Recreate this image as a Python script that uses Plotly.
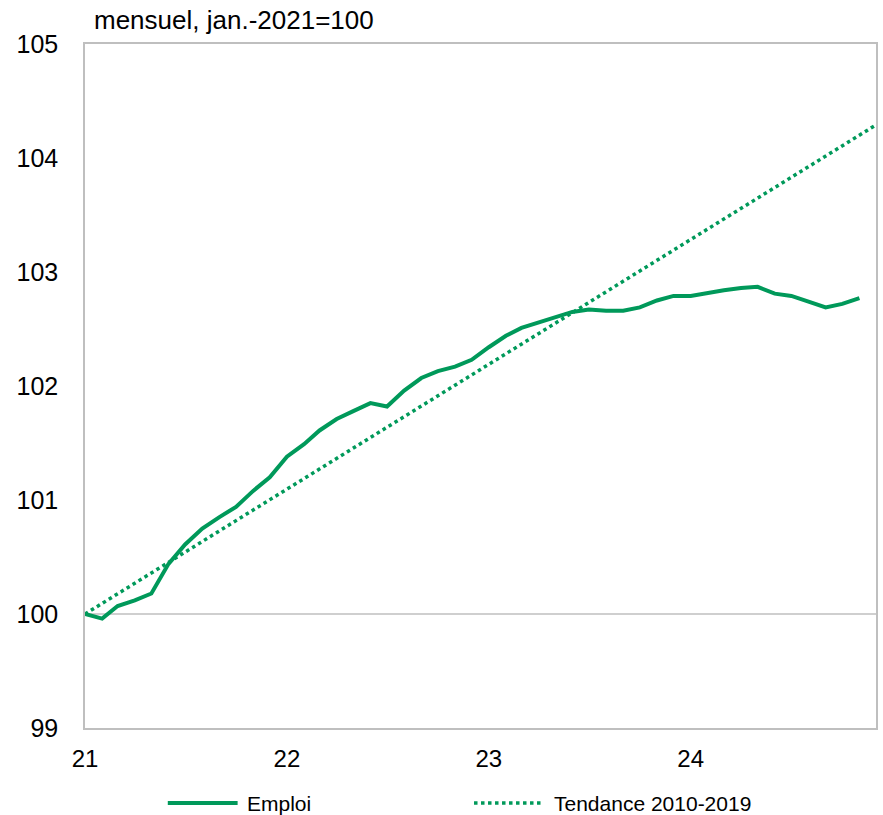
import pandas as pd
import plotly.graph_objects as go

# Monthly employment index, Jan 2021 = 100
months = pd.date_range("2021-01-01", periods=47, freq="MS")
emploi = [
    100.00, 99.96, 100.07, 100.12, 100.18, 100.44, 100.61, 100.75, 100.85, 100.94,
    101.08, 101.20, 101.38, 101.49, 101.61, 101.71, 101.78, 101.85, 101.82, 101.96,
    102.07, 102.13, 102.17, 102.23, 102.34, 102.44, 102.51, 102.56, 102.60, 102.65,
    102.67, 102.66, 102.66, 102.69, 102.75, 102.79, 102.79, 102.82, 102.84, 102.86,
    102.87, 102.81, 102.79, 102.74, 102.69, 102.72, 102.77,
]

# 2010-2019 trend, straight line between its end points
trend_dates = ["2021-01-01", "2024-12-01"]
trend_values = [100.0, 104.29]

y_ticks = [99, 100, 101, 102, 103, 104, 105]
x_ticks = ["2021-01-01", "2022-01-01", "2023-01-01", "2024-01-01"]
x_tick_labels = ["21", "22", "23", "24"]

GREEN = "#00995A"
GRID = "#BFBFBF"
FONT = "Liberation Sans, Arial, sans-serif"

W, H = 883, 815
ML, MR, MT, MB = 85, 5, 44, 87
PW, PH = W - ML - MR, H - MT - MB


def px(x):
    return (x - ML) / PW


def py(y):
    return (MT + PH - y) / PH


fig = go.Figure()
fig.add_trace(go.Scatter(
    x=months, y=emploi, mode="lines", name="Emploi",
    line=dict(color=GREEN, width=4), showlegend=False,
))
fig.add_trace(go.Scatter(
    x=trend_dates, y=trend_values, mode="lines", name="Tendance 2010-2019",
    line=dict(color=GREEN, width=3.5, dash="dot"), showlegend=False,
))

# reference line at 100
fig.add_shape(type="line", xref="paper", yref="y", x0=0, x1=1, y0=100, y1=100,
              line=dict(color=GRID, width=1.5), layer="below")

# legend drawn by hand
fig.add_shape(type="line", xref="paper", yref="paper",
              x0=px(168), x1=px(238), y0=py(803), y1=py(803),
              line=dict(color=GREEN, width=4))
fig.add_shape(type="line", xref="paper", yref="paper",
              x0=px(475), x1=px(545), y0=py(803), y1=py(803),
              line=dict(color=GREEN, width=3.5, dash="dot"))
fig.add_annotation(xref="paper", yref="paper", x=px(245), y=py(803),
                   text="Emploi", showarrow=False, xanchor="left", yanchor="middle",
                   font=dict(size=21, color="black", family=FONT))
fig.add_annotation(xref="paper", yref="paper", x=px(553), y=py(803),
                   text="Tendance 2010-2019", showarrow=False, xanchor="left", yanchor="middle",
                   font=dict(size=21, color="black", family=FONT))

# unit label
fig.add_annotation(xref="paper", yref="paper", x=px(92), y=py(20),
                   text="mensuel, jan.-2021=100", showarrow=False,
                   xanchor="left", yanchor="middle",
                   font=dict(size=26, color="black", family=FONT))

fig.update_layout(
    width=W, height=H,
    margin=dict(l=ML, r=MR, t=MT, b=MB),
    paper_bgcolor="white", plot_bgcolor="white",
    font=dict(family=FONT, color="black"),
    showlegend=False,
)
fig.update_xaxes(
    type="date", range=["2021-01-01", "2024-12-01"],
    tickvals=x_ticks, ticktext=x_tick_labels,
    showgrid=False, zeroline=False,
    showline=True, mirror=True, linecolor=GRID, linewidth=1.5,
    ticks="", tickfont=dict(size=24), ticklabelstandoff=8,
)
fig.update_yaxes(
    range=[99, 105], tickvals=y_ticks,
    showgrid=False, zeroline=False,
    showline=True, mirror=True, linecolor=GRID, linewidth=1.5,
    ticks="", tickfont=dict(size=25), ticklabelstandoff=20,
)

fig.write_html("out.html")
